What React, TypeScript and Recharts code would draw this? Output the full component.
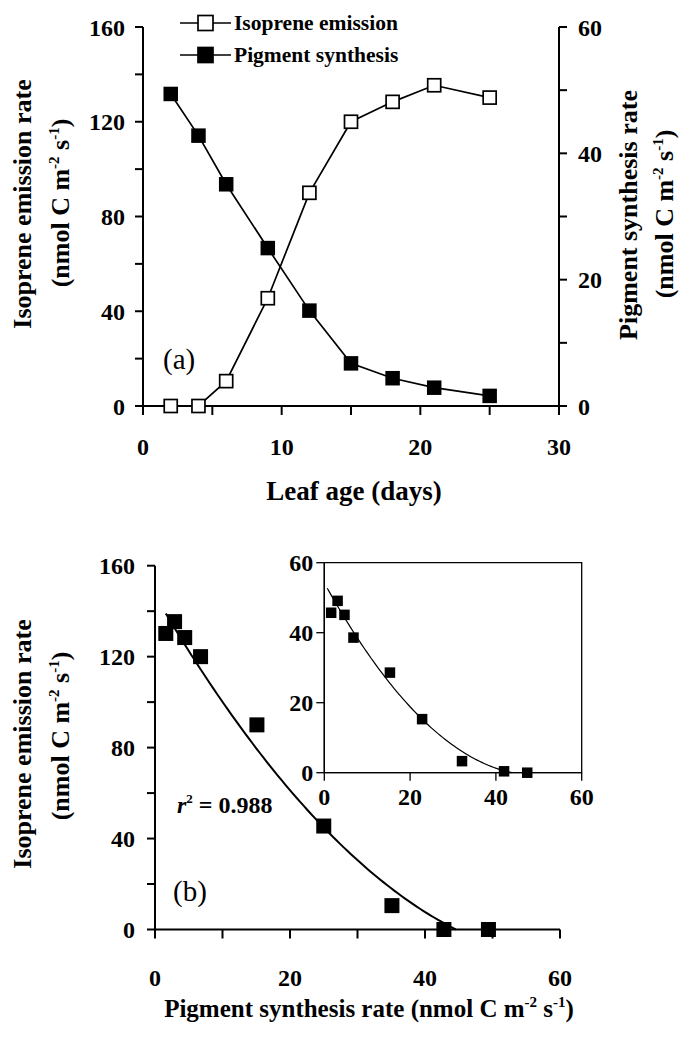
import React from "react";
import { ComposedChart, Line, Scatter, XAxis, YAxis, Legend, ReferenceArea } from "recharts";

// panel (a): leaf age course
const leafAge = [2, 4, 6, 9, 12, 15, 18, 21, 25];
const isopreneEmission = [0, 0, 10.5, 45.5, 90, 120, 128.4, 135.4, 130.2];
const pigmentSynthesis = [49.4, 42.8, 35.1, 25.0, 15.1, 6.75, 4.4, 2.9, 1.6];

// inset of panel (b)
const insetPigment = [1.6, 3.1, 4.7, 6.8, 15.3, 22.8, 32.1, 41.9, 47.3];
const insetIsoprene = [45.7, 49.1, 45.1, 38.6, 28.6, 15.3, 3.3, 0.4, 0];

// quadratic fits y = a + b x + c x^2, drawn from start until y reaches 0
const mainFit = [147.0, -5.09, 0.0402];
const mainFitStart = 1.6;
const insetFit = [54.24, -2.217, 0.02233];
const insetFitStart = 0.7;

const ageTicks = [0, 5, 10, 15, 20, 25, 30];
const isoTicks = [0, 20, 40, 60, 80, 100, 120, 140, 160];
const pigTicks = [0, 10, 20, 30, 40, 50, 60];
const insetTicks = [0, 20, 40, 60];

const FONT = '"Liberation Serif", "Times New Roman", serif';
const tickStyle = { fontSize: 24, fontWeight: 700, fill: "#000", fontFamily: FONT };
const lineStyle = { stroke: "#000", strokeWidth: 2 };
const thinStyle = { stroke: "#000", strokeWidth: 1.3 };

const every = (n: number) => (v: number) => (v % n === 0 ? String(v) : "");

function fitCurve(coef: number[], start: number, steps = 80) {
  const [a, b, c] = coef;
  const end = (-b - Math.sqrt(b * b - 4 * a * c)) / (2 * c);
  const pts = [];
  for (let i = 0; i <= steps; i++) {
    const x = start + ((end - start) * i) / steps;
    pts.push({ x, y: Math.max(0, a + b * x + c * x * x) });
  }
  return pts;
}

const square = (side: number, filled: boolean) => (props: any) => {
  const { cx, cy, index } = props;
  if (cx == null || cy == null) return <g key={index} />;
  return (
    <rect key={index} x={cx - side / 2} y={cy - side / 2} width={side} height={side}
      fill={filled ? "#000" : "#fff"} stroke="#000" strokeWidth={filled ? 0 : 1.7} />
  );
};

function LegendBox() {
  const rows = [
    { label: "Isoprene emission", filled: false },
    { label: "Pigment synthesis", filled: true },
  ];
  return (
    <div style={{ fontFamily: FONT, fontWeight: 700, fontSize: 21.5, color: "#000" }}>
      {rows.map((r, i) => (
        <div key={i} style={{ display: "flex", alignItems: "center", height: 32 }}>
          <svg width={51} height={20} style={{ display: "block" }}>
            <line x1={0} y1={10} x2={51} y2={10} stroke="#000" strokeWidth={1.7} />
            <rect x={18} y={2.5} width={15} height={15} fill={r.filled ? "#000" : "#fff"} stroke="#000" strokeWidth={1.7} />
          </svg>
          <span style={{ marginLeft: 3, lineHeight: "32px" }}>{r.label}</span>
        </div>
      ))}
    </div>
  );
}

// "(nmol C m-2 s-1)" with raised exponents
const units = (
  <>
    <tspan>(nmol C m</tspan>
    <tspan dy={-10} fontSize={15}>-2</tspan>
    <tspan dy={10}> s</tspan>
    <tspan dy={-10} fontSize={15}>-1</tspan>
    <tspan dy={10}>)</tspan>
  </>
);

export default function App() {
  const panelA = leafAge.map((age, i) => ({ age, iso: isopreneEmission[i], pig: pigmentSynthesis[i] }));
  const panelB = pigmentSynthesis.map((x, i) => ({ x, y: isopreneEmission[i] }));
  const inset = insetPigment.map((x, i) => ({ x, y: insetIsoprene[i] }));
  const mainCurve = fitCurve(mainFit, mainFitStart);
  const insetCurve = fitCurve(insetFit, insetFitStart);

  return (
    <div style={{ position: "absolute", left: 0, top: 0, width: 692, height: 1049, background: "#fff", overflow: "hidden" }}>
      {/* (a) */}
      <div style={{ position: "absolute", left: 0, top: 0 }}>
        <ComposedChart width={692} height={520} data={panelA}
          margin={{ top: 27, left: 83, right: 73, bottom: 74 }} style={{ fontFamily: FONT }}>
          <XAxis dataKey="age" type="number" domain={[0, 30]} ticks={ageTicks} interval={0}
            tickFormatter={every(10)} tick={tickStyle} tickSize={9} tickMargin={23} height={40}
            axisLine={lineStyle} tickLine={lineStyle} />
          <YAxis yAxisId="l" type="number" domain={[0, 160]} ticks={isoTicks} interval={0}
            tickFormatter={every(40)} tick={tickStyle} tickSize={8} tickMargin={10} width={60}
            axisLine={lineStyle} tickLine={lineStyle} />
          <YAxis yAxisId="r" orientation="right" type="number" domain={[0, 60]} ticks={pigTicks} interval={0}
            tickFormatter={every(20)} tick={tickStyle} tickSize={8} tickMargin={11} width={60}
            axisLine={lineStyle} tickLine={lineStyle} />
          <Legend layout="vertical" verticalAlign="middle" align="center" content={<LegendBox />}
            wrapperStyle={{ top: 7, left: 180, width: "auto" }} />
          <Line yAxisId="l" dataKey="iso" type="linear" stroke="#000" strokeWidth={1.7}
            dot={square(13, false)} activeDot={false} isAnimationActive={false} />
          <Line yAxisId="r" dataKey="pig" type="linear" stroke="#000" strokeWidth={1.7}
            dot={square(14.5, true)} activeDot={false} isAnimationActive={false} />
        </ComposedChart>
      </div>

      {/* (b) */}
      <div style={{ position: "absolute", left: 0, top: 520 }}>
        <ComposedChart width={692} height={529}
          margin={{ top: 45.7, left: 95, right: 132, bottom: 59.5 }} style={{ fontFamily: FONT }}>
          <XAxis dataKey="x" type="number" domain={[0, 60]} ticks={pigTicks} interval={0}
            tickFormatter={every(20)} tick={tickStyle} tickSize={9} tickMargin={30} height={60}
            axisLine={lineStyle} tickLine={lineStyle} />
          <YAxis dataKey="y" type="number" domain={[0, 160]} ticks={isoTicks} interval={0}
            tickFormatter={every(40)} tick={tickStyle} tickSize={8} tickMargin={12} width={60}
            axisLine={lineStyle} tickLine={lineStyle} />
          <Scatter data={mainCurve} line={{ stroke: "#000", strokeWidth: 2 }} shape={() => <g />}
            isAnimationActive={false} />
          <Scatter data={panelB} shape={square(15, true)} isAnimationActive={false} />
        </ComposedChart>
      </div>

      {/* inset */}
      <div style={{ position: "absolute", left: 250, top: 540 }}>
        <ComposedChart width={350} height={290}
          margin={{ top: 22.7, left: 24.3, right: 18.3, bottom: 17.3 }} style={{ fontFamily: FONT }}>
          <XAxis dataKey="x" type="number" domain={[0, 60]} ticks={insetTicks} interval={0}
            tick={tickStyle} tickSize={8} tickMargin={7} height={40}
            axisLine={thinStyle} tickLine={thinStyle} />
          <YAxis dataKey="y" type="number" domain={[0, 60]} ticks={insetTicks} interval={0}
            tick={tickStyle} tickSize={8} tickMargin={3} width={50}
            axisLine={thinStyle} tickLine={thinStyle} />
          <ReferenceArea x1={0} x2={60} y1={0} y2={60} fill="none" stroke="#000" strokeWidth={1.3} />
          <Scatter data={insetCurve} line={{ stroke: "#000", strokeWidth: 1.2 }} shape={() => <g />}
            isAnimationActive={false} />
          <Scatter data={inset} shape={square(10.5, true)} isAnimationActive={false} />
        </ComposedChart>
      </div>

      {/* titles and annotations */}
      <svg width={692} height={1049} style={{ position: "absolute", left: 0, top: 0, pointerEvents: "none" }}
        fontFamily={FONT} fill="#000">
        <g fontSize={26} fontWeight={700} textAnchor="middle">
          <text transform="translate(30.5,204) rotate(-90)">Isoprene emission rate</text>
          <text transform="translate(68.5,203) rotate(-90)">{units}</text>
          <text transform="translate(637,215) rotate(-90)">Pigment synthesis rate</text>
          <text transform="translate(672.5,214) rotate(-90)">{units}</text>
          <text x={354} y={500} fontSize={27}>Leaf age (days)</text>
          <text transform="translate(30.5,744) rotate(-90)">Isoprene emission rate</text>
          <text transform="translate(68.5,736) rotate(-90)">{units}</text>
          <text x={369} y={1017} fontSize={25}>
            <tspan>Pigment synthesis rate (nmol C m</tspan>
            <tspan dy={-10} fontSize={15}>-2</tspan>
            <tspan dy={10}> s</tspan>
            <tspan dy={-10} fontSize={15}>-1</tspan>
            <tspan dy={10}>)</tspan>
          </text>
        </g>
        <text x={163} y={369} fontSize={29}>(a)</text>
        <text x={173} y={901} fontSize={29}>(b)</text>
        <text x={177} y={813} fontSize={24} fontWeight={700}>
          <tspan fontStyle="italic">r</tspan>
          <tspan dy={-10} fontSize={13}>2</tspan>
          <tspan dy={10}> = 0.988</tspan>
        </text>
      </svg>
    </div>
  );
}
